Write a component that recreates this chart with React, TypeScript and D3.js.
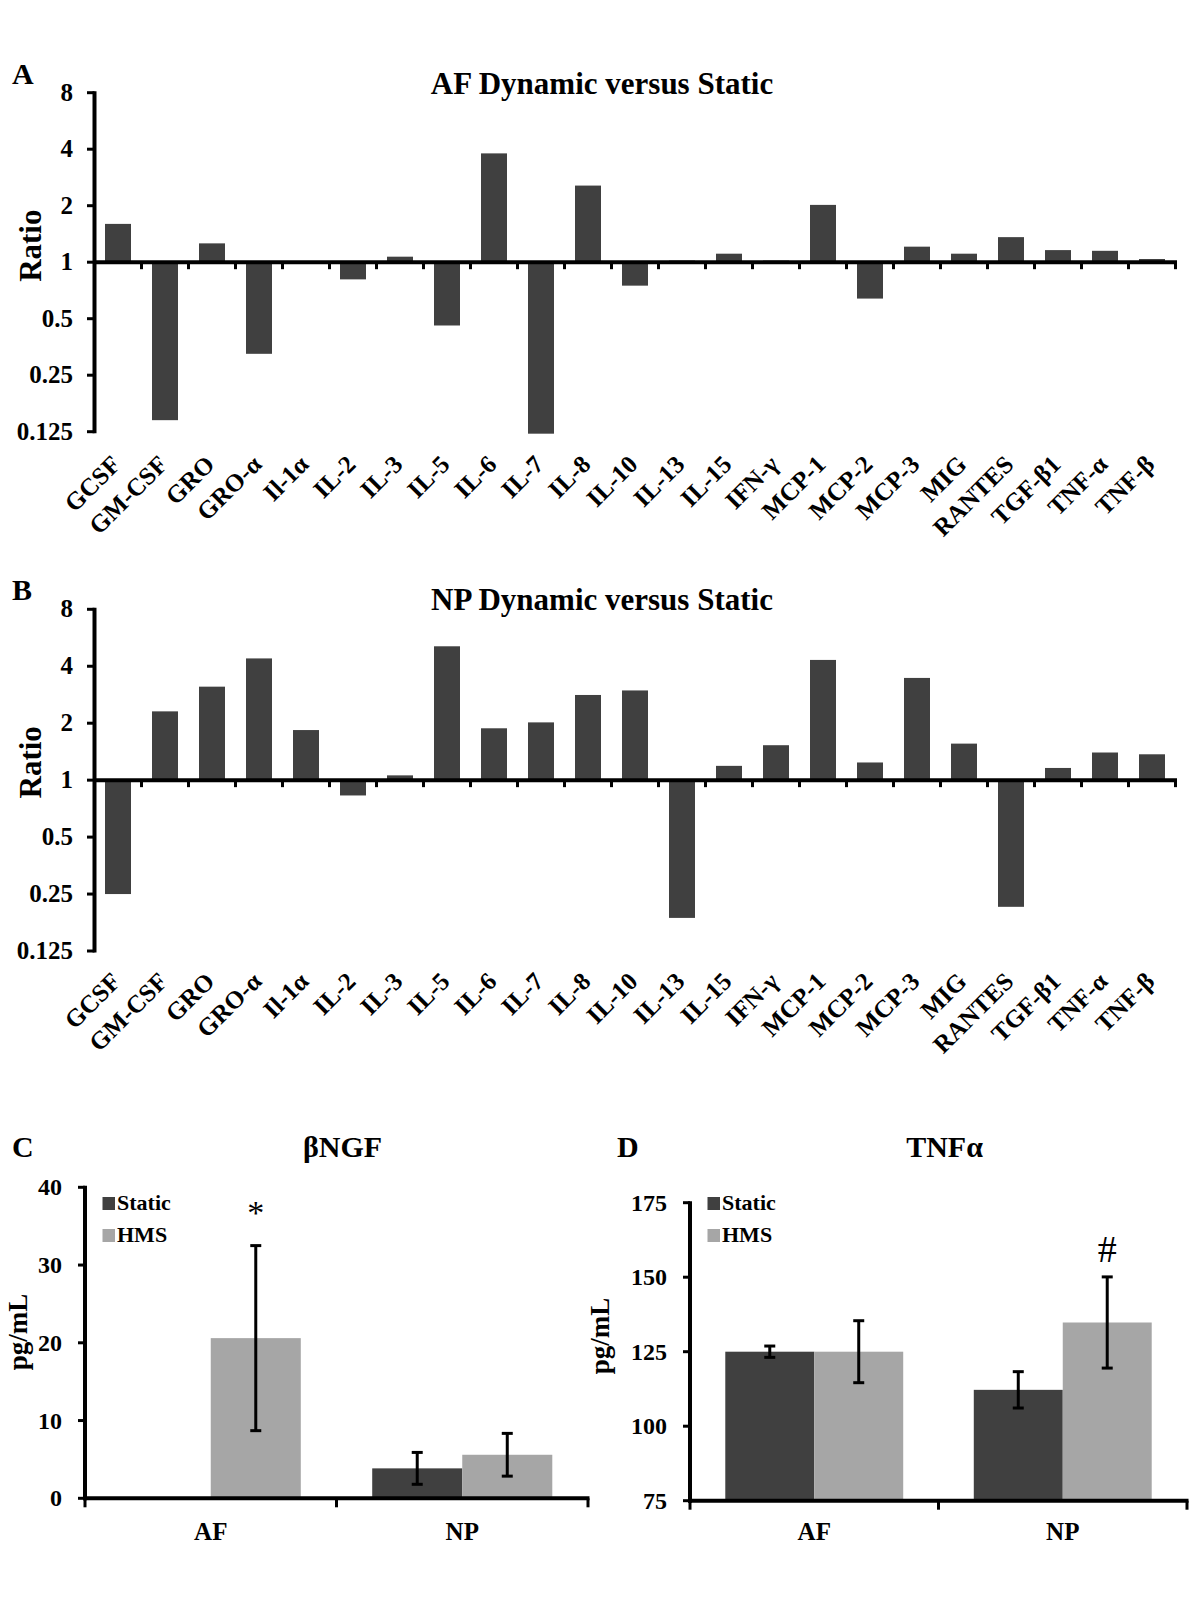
import React from "react";
import * as d3 from "d3";

const CATEGORIES = ["GCSF","GM-CSF","GRO","GRO-α","Il-1α","IL-2","IL-3","IL-5","IL-6","IL-7","IL-8","IL-10","IL-13","IL-15","IFN-γ","MCP-1","MCP-2","MCP-3","MIG","RANTES","TGF-β1","TNF-α","TNF-β"];
const AF_RATIO = [1.6,0.144,1.26,0.325,1.0,0.81,1.07,0.46,3.8,0.122,2.56,0.75,1.02,1.11,1.02,2.02,0.64,1.21,1.11,1.36,1.16,1.15,1.04];
const NP_RATIO = [0.25,2.31,3.12,4.4,1.84,0.83,1.06,5.1,1.88,2.02,2.82,2.98,0.187,1.19,1.53,4.32,1.24,3.47,1.56,0.214,1.16,1.4,1.37];
const RATIO_TICKS = [0.125,0.25,0.5,1,2,4,8];

const GROUPS = ["AF","NP"];
const SERIES = ["Static","HMS"];
const NGF_STATIC = [0, 3.85];
const NGF_STATIC_ERR = [0, 2.05];
const NGF_HMS = [20.6, 5.6];
const NGF_HMS_ERR = [11.9, 2.75];
const NGF_TICKS = [0,10,20,30,40];
const TNF_STATIC = [125, 112.2];
const TNF_STATIC_ERR = [1.9, 6.1];
const TNF_HMS = [125, 134.8];
const TNF_HMS_ERR = [10.4, 15.3];
const TNF_TICKS = [75,100,125,150,175];

const DARK = "#404040";
const LIGHT = "#a6a6a6";
const FONT = "'Liberation Serif', 'Times New Roman', serif";

function fmt(v: number) {
  return String(v);
}

function RatioPanel({ letter, title, values, top, bottom, labelY }: any) {
  const x = d3.scaleBand().domain(CATEGORIES).range([94.5, 1175.5]).padding(0);
  const y = d3.scaleLog().base(2).domain([0.125, 8]).range([bottom, top]);
  const bw = x.bandwidth() * 0.553;
  const y1 = y(1);
  const boundaries = d3.range(1, CATEGORIES.length + 1).map((i) => x.range()[0] + i * x.step());
  return (
    <g>
      <text x={12} y={top - 9} fontFamily={FONT} fontWeight="bold" fontSize={30}>{letter}</text>
      <text x={602} y={top + 1} fontFamily={FONT} fontWeight="bold" fontSize={31} textAnchor="middle">{title}</text>
      <text transform={`translate(41,${top + 153}) rotate(-90)`} fontFamily={FONT} fontWeight="bold" fontSize={31} textAnchor="middle">Ratio</text>
      {values.map((v: number, i: number) => {
        const cx = (x(CATEGORIES[i]) as number) + x.bandwidth() / 2;
        const yv = y(v);
        return (
          <rect key={i} x={cx - bw / 2} y={Math.min(yv, y1)} width={bw} height={Math.abs(yv - y1)} fill={DARK} />
        );
      })}
      {/* y axis */}
      <line x1={94.5} x2={94.5} y1={top - 1.5} y2={bottom + 1.5} stroke="#000" strokeWidth={4} />
      {RATIO_TICKS.map((t) => (
        <g key={t}>
          <line x1={87} x2={94.5} y1={y(t)} y2={y(t)} stroke="#000" strokeWidth={3} />
          <text x={73} y={y(t) + 8} fontFamily={FONT} fontWeight="bold" fontSize={25} textAnchor="end">{fmt(t)}</text>
        </g>
      ))}
      {/* x axis at ratio 1 */}
      <line x1={94.5} x2={1177} y1={y1} y2={y1} stroke="#000" strokeWidth={4} />
      {boundaries.map((b, i) => (
        <line key={i} x1={b} x2={b} y1={y1} y2={y1 + 7} stroke="#000" strokeWidth={3} />
      ))}
      {CATEGORIES.map((c) => {
        const cx = (x(c) as number) + x.bandwidth() / 2;
        return (
          <text key={c} transform={`translate(${cx + 4},${labelY}) rotate(-45)`} fontFamily={FONT} fontWeight="bold" fontSize={25} textAnchor="end">{c}</text>
        );
      })}
    </g>
  );
}

function GroupPanel({ letter, title, left, right, top, bottom, domain, ticks, staticVals, staticErr, hmsVals, hmsErr, mark, labelRight, yLabelX, yLabelY }: any) {
  const x0 = d3.scaleBand().domain(GROUPS).range([left, right]).padding(0);
  const inner = x0.bandwidth() * 0.716;
  const x1 = d3.scaleBand().domain(SERIES).range([(x0.bandwidth() - inner) / 2, (x0.bandwidth() + inner) / 2]).padding(0);
  const y = d3.scaleLinear().domain(domain).range([bottom, top]);
  const series = [
    { name: "Static", vals: staticVals, err: staticErr, color: DARK },
    { name: "HMS", vals: hmsVals, err: hmsErr, color: LIGHT },
  ];
  const mid = (left + right) / 2;
  return (
    <g>
      <text x={left - 73} y={1157} fontFamily={FONT} fontWeight="bold" fontSize={30}>{letter}</text>
      <text x={mid + 6} y={1157} fontFamily={FONT} fontWeight="bold" fontSize={30} textAnchor="middle">{title}</text>
      <text transform={`translate(${yLabelX},${yLabelY}) rotate(-90)`} fontFamily={FONT} fontWeight="bold" fontSize={27} textAnchor="middle">pg/mL</text>
      {series.map((s) =>
        GROUPS.map((g, i) => {
          const bx = (x0(g) as number) + (x1(s.name) as number);
          const yv = y(s.vals[i]);
          return (
            <rect key={s.name + g} x={bx} y={yv} width={x1.bandwidth()} height={bottom - yv} fill={s.color} />
          );
        })
      )}
      {series.map((s) =>
        GROUPS.map((g, i) => {
          if (!s.err[i]) return null;
          const cx = (x0(g) as number) + (x1(s.name) as number) + x1.bandwidth() / 2;
          const yh = y(s.vals[i] + s.err[i]);
          const yl = y(s.vals[i] - s.err[i]);
          return (
            <g key={"e" + s.name + g} stroke="#000" strokeWidth={3}>
              <line x1={cx} x2={cx} y1={yh} y2={yl} />
              <line x1={cx - 5.5} x2={cx + 5.5} y1={yh} y2={yh} />
              <line x1={cx - 5.5} x2={cx + 5.5} y1={yl} y2={yl} />
            </g>
          );
        })
      )}
      {mark && (
        <text x={(x0(mark.group) as number) + (x1("HMS") as number) + x1.bandwidth() / 2} y={y(mark.at)} fontFamily={FONT} fontSize={mark.size} textAnchor="middle">{mark.text}</text>
      )}
      {/* legend */}
      {series.map((s, i) => (
        <g key={"lg" + s.name}>
          <rect x={left + 17.5} y={1197 + i * 32} width={12.5} height={13} fill={s.color} />
          <text x={left + 32} y={1210 + i * 32} fontFamily={FONT} fontWeight="bold" fontSize={22}>{s.name}</text>
        </g>
      ))}
      {/* axes */}
      <line x1={left} x2={left} y1={top - 1.5} y2={bottom + 2} stroke="#000" strokeWidth={4} />
      {ticks.map((t: number) => (
        <g key={t}>
          <line x1={left - 7} x2={left} y1={y(t)} y2={y(t)} stroke="#000" strokeWidth={3} />
          <text x={labelRight} y={y(t) + 8} fontFamily={FONT} fontWeight="bold" fontSize={24} textAnchor="end">{t}</text>
        </g>
      ))}
      <line x1={left - 2} x2={right + 1.5} y1={bottom} y2={bottom} stroke="#000" strokeWidth={4} />
      {[left, mid, right].map((t, i) => (
        <line key={i} x1={t} x2={t} y1={bottom} y2={bottom + 9} stroke="#000" strokeWidth={3} />
      ))}
      {GROUPS.map((g) => (
        <text key={g} x={(x0(g) as number) + x0.bandwidth() / 2} y={1540} fontFamily={FONT} fontWeight="bold" fontSize={25} textAnchor="middle">{g}</text>
      ))}
    </g>
  );
}

export default function App() {
  return (
    <svg width={1200} height={1600} style={{ position: "absolute", left: 0, top: 0, background: "#fff" }}>
      <rect x={0} y={0} width={1200} height={1600} fill="#fff" />
      <RatioPanel letter="A" title="AF Dynamic versus Static" values={AF_RATIO} top={92.7} bottom={431.7} labelY={466} />
      <RatioPanel letter="B" title="NP Dynamic versus Static" values={NP_RATIO} top={609.3} bottom={951} labelY={983} />
      <GroupPanel letter="C" title="βNGF" left={85} right={588} top={1187.3} bottom={1498.3} domain={[0, 40]} ticks={NGF_TICKS}
        staticVals={NGF_STATIC} staticErr={NGF_STATIC_ERR} hmsVals={NGF_HMS} hmsErr={NGF_HMS_ERR}
        mark={{ group: "AF", text: "*", at: 35.3, size: 34 }} labelRight={62} yLabelX={26.5} yLabelY={1332} />
      <GroupPanel letter="D" title="TNFα" left={690} right={1187} top={1202.7} bottom={1500.7} domain={[75, 175]} ticks={TNF_TICKS}
        staticVals={TNF_STATIC} staticErr={TNF_STATIC_ERR} hmsVals={TNF_HMS} hmsErr={TNF_HMS_ERR}
        mark={{ group: "NP", text: "#", at: 155, size: 38 }} labelRight={667} yLabelX={609} yLabelY={1336} />
    </svg>
  );
}
